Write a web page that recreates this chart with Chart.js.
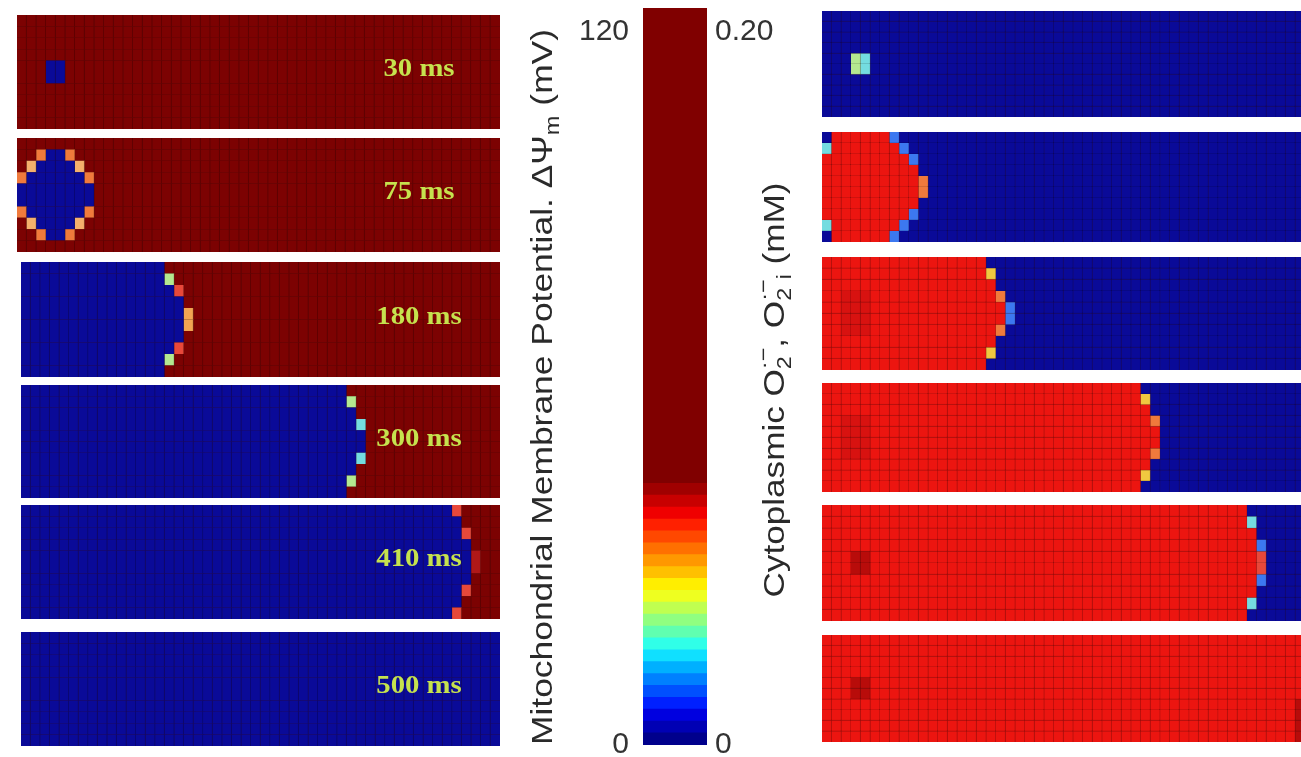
<!DOCTYPE html>
<html lang="en">
<head>
<meta charset="UTF-8">
<title>Membrane potential and superoxide waves</title>
<script src="https://cdn.jsdelivr.net/npm/chart.js@4.4.0/dist/chart.umd.min.js"></script>
<style>
    body {
        margin: 0;
        background: #fff;
        width: 1301px;
        height: 757px;
        overflow: hidden;
        position: relative;
    }
    .panel {
        position: absolute;
        background: #3a0a0a;
    }
    #barWrap {
        position: absolute;
        left: 505px;
        top: 0;
    }
</style>
</head>
<body>
<div id="panels"></div>
<div id="barWrap"><canvas id="colorBar" width="310" height="757"></canvas></div>
<script>
    // snapshot times, one per row of panels
    const timeLabels = ['30 ms', '75 ms', '180 ms', '300 ms', '410 ms', '500 ms'];

    // cell codes and the colours
    const cellCodes  = ['R', 'B', 'r', 'd', 'e', 'o', 'p', 's', 'a', 'm', 'y', 'g', 'c', 'l'];
    const cellColors = ['#7c0202', '#0a0a98', '#ec1510', '#b80c0a', '#d81210', '#f07a3c', '#f4b06c',
                        '#e8483a', '#f2a552', '#b01818', '#f0c840', '#b4e890', '#74dce0', '#3c78f0'];

    // grid rows (top to bottom), run length coded: "3R" = 3 cells of R, "*R" = rest of the row
    const mito30  = ['*R', '*R', '*R', '*R', '3R 2B *R', '3R 2B *R', '*R', '*R', '*R', '*R'];
    const mito75  = ['*R', '2R 1o 2B 1o *R', '1R 1p 4B 1p *R', '1o 6B 1o *R', '8B *R',
                     '8B *R', '1o 6B 1o *R', '1R 1p 4B 1p *R', '2R 1o 2B 1o *R', '*R'];
    const mito180 = ['15B *R', '15B 1g *R', '16B 1s *R', '17B *R', '17B 1a *R',
                     '17B 1a *R', '17B *R', '16B 1s *R', '15B 1g *R', '15B *R'];
    const mito300 = ['34B *R', '34B 1g *R', '35B *R', '35B 1c *R', '36B *R',
                     '36B *R', '35B 1c *R', '35B *R', '34B 1g *R', '34B *R'];
    const mito410 = ['45B 1s *R', '46B *R', '46B 1s *R', '47B *R', '47B 1m *R',
                     '47B 1m *R', '47B *R', '46B 1s *R', '46B *R', '45B 1s *R'];
    const mito500 = ['*B', '*B', '*B', '*B', '*B', '*B', '*B', '*B', '*B', '*B'];

    const sox30  = ['*B', '*B', '*B', '*B', '3B 1g 1c *B', '3B 1g 1c *B', '*B', '*B', '*B', '*B'];
    const sox75  = ['1B 6r 1l *B', '1c 7r 1l *B', '9r 1l *B', '10r *B', '10r 1o *B',
                    '10r 1o *B', '10r *B', '9r 1l *B', '1c 7r 1l *B', '1B 6r 1l *B'];
    const sox180 = ['17r *B', '17r 1y *B', '18r *B', '2r 3e 13r 1o *B', '2r 3e 14r 1l *B',
                    '2r 3e 14r 1l *B', '2r 3e 13r 1o *B', '18r *B', '17r 1y *B', '17r *B'];
    const sox300 = ['33r *B', '33r 1y *B', '34r *B', '2r 3e 29r 1o *B', '2r 3e 30r *B',
                    '2r 3e 30r *B', '2r 3e 29r 1o *B', '34r *B', '33r 1y *B', '33r *B'];
    const sox410 = ['44r *B', '44r 1c *B', '45r *B', '45r 1l *B', '3r 2d 40r 1s *B',
                    '3r 2d 40r 1s *B', '45r 1l *B', '45r *B', '44r 1c *B', '44r *B'];
    const sox500 = ['*r', '*r', '*r', '*r', '3r 2d *r', '3r 2d *r', '49r 1d', '49r 1d', '49r 1d', '49r 1d'];

    // colour bar: band heights (mV, bottom to top) and their colours
    const barSteps  = [2, 2, 2, 2, 2, 2, 2, 2, 2, 2, 2, 2, 2, 2, 2, 2, 2, 2, 2, 2, 2, 2, 80];
    const barColors = ['#00008c', '#0000b4', '#0000e0', '#0020ff', '#0050ff', '#0080ff', '#00b0ff', '#10e0ff',
                       '#30ffe8', '#60ffb0', '#90ff80', '#c0ff50', '#eeff20', '#ffee00', '#ffc000', '#ff9800',
                       '#ff7000', '#ff4800', '#ff2000', '#f00000', '#c80000', '#a00000', '#800000'];
    const potentialTicks = [0, 120];
    const superoxideTicks = [0, 0.2];

    const potentialTitle = [
        { text: 'Mitochondrial Membrane Potential. \u0394\u03A8' },
        { text: 'm', size: 0.65, shift: 0.25 },
        { text: ' (mV)' }
    ];
    const superoxideTitle = [
        { text: 'Cytoplasmic O' },
        { text: '2', size: 0.65, shift: 0.25 },
        { text: '\u00B7\u2212', size: 0.65, shift: -0.45, stack: true },
        { text: ', O' },
        { text: '2', size: 0.65, shift: 0.25 },
        { text: '\u00B7\u2212', size: 0.65, shift: -0.45, stack: true },
        { text: 'i', size: 0.65, shift: 0.25 },
        { text: ' (mM)' }
    ];

    // panel boxes on the page: x, y, width, height
    const mitoBoxes = [[17, 15, 483, 114], [17, 138, 483, 114], [21, 262, 479, 115],
                       [21, 385, 479, 113], [21, 505, 479, 114], [21, 632, 479, 114]];
    const soxBoxes  = [[822, 11, 483, 106], [822, 132, 483, 110], [822, 257, 483, 113],
                       [822, 383, 483, 109], [822, 505, 483, 116], [822, 635, 483, 107]];
    const LABEL_X = 419;
    const GRID_COLS = 50;

    const colorOf = {};
    cellCodes.forEach((c, i) => { colorOf[c] = cellColors[i]; });

    function expandRow(code) {
        const cells = [];
        code.split(' ').forEach(tok => {
            const ch = tok.slice(-1);
            const n = tok[0] === '*' ? GRID_COLS - cells.length : parseInt(tok);
            for (let i = 0; i < n; i++) cells.push(ch);
        });
        return cells.slice(0, GRID_COLS);
    }

    // draws the time stamp inside a panel
    const stampPlugin = {
        id: 'timeStamp',
        afterDatasetsDraw(chart, args, opts) {
            if (!opts.text) return;
            const ctx = chart.ctx;
            ctx.save();
            ctx.translate(opts.x, opts.y);
            ctx.scale(1.15, 1);
            ctx.font = 'bold 25px "Liberation Serif", "Times New Roman", serif';
            ctx.fillStyle = '#c6e24e';
            ctx.textAlign = 'center';
            ctx.textBaseline = 'middle';
            ctx.fillText(opts.text, 0, 0);
            ctx.restore();
        }
    };

    function makePanel(rows, box, label, edge, lineColor) {
        const cv = document.createElement('canvas');
        cv.width = box[2];
        cv.height = box[3];
        cv.className = 'panel';
        cv.style.left = box[0] + 'px';
        cv.style.top = box[1] + 'px';
        document.getElementById('panels').appendChild(cv);

        const grid = rows.map(expandRow);
        const cols = grid[0].map((_, i) => i + 1);
        // bottom row first so that the stack builds upward
        const datasets = grid.slice().reverse().map(cells => ({
            data: cells.map(() => 1),
            backgroundColor: cells.map(c => colorOf[c]),
            borderColor: lineColor,
            borderWidth: edge,
            borderSkipped: false,
            inflateAmount: 1,
            categoryPercentage: 1,
            barPercentage: 1
        }));

        new Chart(cv, {
            type: 'bar',
            data: { labels: cols, datasets: datasets },
            options: {
                responsive: false,
                animation: false,
                events: [],
                layout: { padding: 0 },
                plugins: {
                    legend: { display: false },
                    tooltip: { enabled: false },
                    timeStamp: { text: label, x: LABEL_X - box[0], y: box[3] / 2 - 2 }
                },
                scales: {
                    x: { display: false, stacked: true },
                    y: { display: false, stacked: true, min: 0, max: rows.length }
                }
            },
            plugins: [stampPlugin]
        });
    }

    const mitoPanels = [mito30, mito75, mito180, mito300, mito410, mito500];
    const soxPanels = [sox30, sox75, sox180, sox300, sox410, sox500];
    mitoPanels.forEach((p, i) => makePanel(p, mitoBoxes[i], timeLabels[i],
        { left: 1, right: 0, top: 0, bottom: 0 }, 'rgba(0,0,0,0.2)'));
    soxPanels.forEach((p, i) => makePanel(p, soxBoxes[i], null,
        { left: 1, right: 0, top: 1, bottom: 0 }, 'rgba(0,0,0,0.12)'));

    // rotated axis titles with sub/superscripts
    function drawRich(ctx, parts, cx, cy, length) {
        const base = 30;
        const fontOf = p => Math.round(base * (p.size || 1)) + 'px "Liberation Sans", Arial, sans-serif';
        ctx.save();
        let cursor = 0, groupStart = 0;
        const xs = [];
        parts.forEach(p => {
            ctx.font = fontOf(p);
            const pw = ctx.measureText(p.text).width;
            if (p.stack) {
                xs.push(groupStart);
                cursor = Math.max(cursor, groupStart + pw);
            } else {
                xs.push(cursor);
                groupStart = cursor;
                cursor += pw;
            }
        });
        const total = cursor;
        ctx.translate(cx, cy);
        ctx.rotate(-Math.PI / 2);
        ctx.scale(length / total, 1);
        ctx.fillStyle = '#2a2a2a';
        ctx.textBaseline = 'alphabetic';
        parts.forEach((p, i) => {
            ctx.font = fontOf(p);
            ctx.fillText(p.text, xs[i] - total / 2, base * 0.36 + base * (p.shift || 0));
        });
        ctx.restore();
    }

    const titlePlugin = {
        id: 'sideTitles',
        afterDraw(chart) {
            drawRich(chart.ctx, potentialTitle, 36, 387, 716);
            drawRich(chart.ctx, superoxideTitle, 268, 390, 415);
        }
    };

    const tickFont = { size: 30, family: '"Liberation Sans", Arial, sans-serif' };

    // keep the bar at its own size, whatever room the end labels want
    function fixAxis(width) {
        return s => {
            s.width = width;
            s.paddingTop = 0;
            s.paddingBottom = 0;
        };
    }

    new Chart(document.getElementById('colorBar'), {
        type: 'bar',
        data: {
            labels: [''],
            datasets: barSteps.map((v, i) => ({
                data: [v],
                backgroundColor: barColors[i],
                borderWidth: 0,
                inflateAmount: 0.5,
                categoryPercentage: 1,
                barPercentage: 1
            }))
        },
        options: {
            responsive: false,
            animation: false,
            events: [],
            layout: { padding: { top: 8, bottom: 12, left: 0, right: 0 } },
            plugins: { legend: { display: false }, tooltip: { enabled: false } },
            scales: {
                x: { display: false, stacked: true },
                y: {
                    stacked: true, min: 0, max: 124, position: 'left',
                    grid: { display: false, drawTicks: false },
                    border: { display: false },
                    afterBuildTicks: s => { s.ticks = potentialTicks.map(v => ({ value: v })); },
                    afterFit: fixAxis(138),
                    ticks: { font: tickFont, color: '#333', padding: 14, callback: v => String(v) }
                },
                y2: {
                    min: 0, max: 0.2067, position: 'right',
                    grid: { display: false, drawTicks: false },
                    border: { display: false },
                    afterBuildTicks: s => { s.ticks = superoxideTicks.map(v => ({ value: v })); },
                    afterFit: fixAxis(108),
                    ticks: { font: tickFont, color: '#333', padding: 8, callback: v => (v === 0 ? '0' : v.toFixed(2)) }
                }
            }
        },
        plugins: [titlePlugin]
    });
</script>
</body>
</html>
